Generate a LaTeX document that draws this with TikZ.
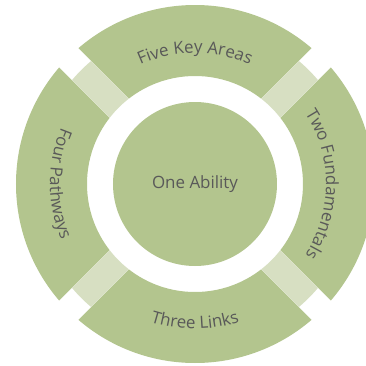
\documentclass[tikz,border=0pt]{standalone}
\usepackage{fontspec}
\setmainfont{Open Sans}
\usetikzlibrary{decorations.text}
\definecolor{seg}{HTML}{B3C58E}
\definecolor{pale}{HTML}{D7DFC2}
\definecolor{txt}{HTML}{595959}
\newcommand\lblfont{\fontsize{17}{17}\selectfont}
\tikzset{
  arclabel/.style={decorate, decoration={text along path, text align=center, text color=txt, text={|\lblfont|#1}}}
}
\begin{document}
\begin{tikzpicture}[x=1bp,y=1bp]
\useasboundingbox (-195,-182) rectangle (171,184);
% segmented ring
\fill[seg, even odd rule] (0,0) circle[radius=179] (0,0) circle[radius=108];
\foreach \a in {45,135} \fill[white, rotate=\a] (-200,-13.5) rectangle (200,13.5);
\begin{scope}
  \clip[rotate=45] (-200,-13.5) rectangle (200,13.5);
  \fill[pale, even odd rule] (0,0) circle[radius=161] (0,0) circle[radius=108];
\end{scope}
\begin{scope}
  \clip[rotate=135] (-200,-13.5) rectangle (200,13.5);
  \fill[pale, even odd rule] (0,0) circle[radius=161] (0,0) circle[radius=108];
\end{scope}
% centre
\fill[seg] (0,0) circle[radius=82];
\node[text=txt, font=\lblfont] (center) at (0,0) {One Ability};
% labels along arcs
\path[arclabel={Five Key Areas}] (135:131) arc[start angle=135, end angle=45, radius=131];
\path[arclabel={Two Fundamentals}] (45:131) arc[start angle=45, end angle=-45, radius=131];
\path[arclabel={Three Links}] (-135:145) arc[start angle=-135, end angle=-45, radius=145];
\path[arclabel={Four Pathways}] (135:145) arc[start angle=135, end angle=225, radius=145];
\end{tikzpicture}
\end{document}
